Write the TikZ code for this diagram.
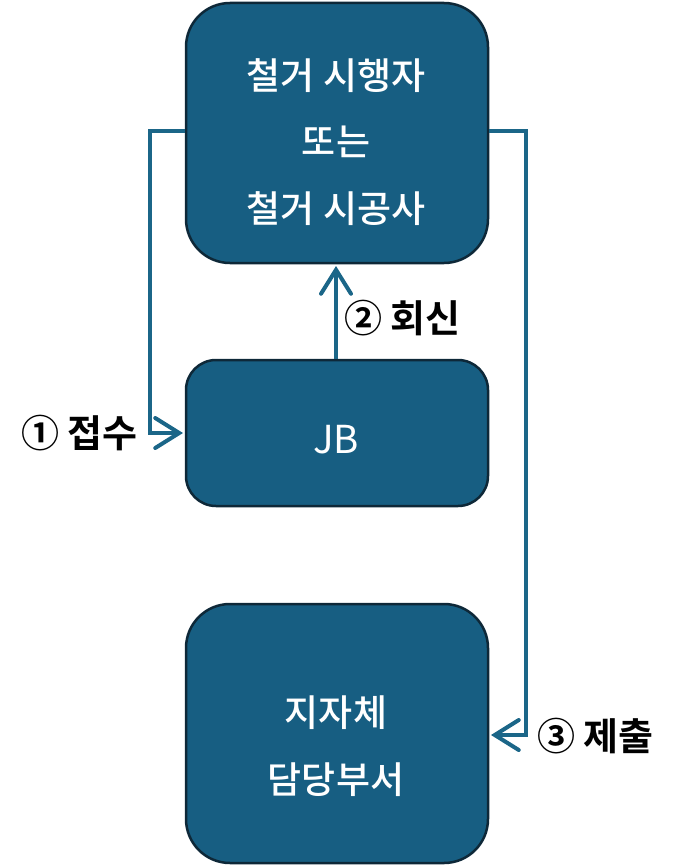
\documentclass[tikz,border=0pt]{standalone}
\usepackage{fontspec}
\setmainfont{Noto Sans CJK KR}[UprightFont=* Medium]
\newfontfamily\jbfont{Noto Sans CJK KR}
\newfontfamily\lblfont{Noto Sans CJK KR}[UprightFont=* Bold]
\usetikzlibrary{arrows.meta}
\definecolor{boxfill}{RGB}{23,94,130}
\definecolor{boxline}{RGB}{14,40,56}
\definecolor{conn}{RGB}{27,102,136}
\begin{document}
\begin{tikzpicture}[x=1pt,y=-1pt,
  box/.style={draw=boxline,line width=2.5pt,fill=boxfill,rounded corners=44pt},
  boxtext/.style={text=white,font=\fontsize{37}{66.5}\selectfont,align=center,inner sep=0pt},
  conline/.style={draw=conn,line width=4pt,-{Straight Barb[length=24pt,width=30pt,line width=4pt,line cap=round]}},
  lbl/.style={font=\lblfont\fontsize{38}{40}\selectfont,text=black,inner sep=0pt}]
\useasboundingbox (0,0) rectangle (676,867);
\path[box] (186,3) rectangle (488,263);
\node[boxtext] (top) at (336,142) {철거 시행자\\또는\\철거 시공사};
\path[box,rounded corners=30pt] (186,360) rectangle (488,506);
\node[boxtext,font=\jbfont\fontsize{38.5}{40}\selectfont] (jb) at (336,440) {JB};
\path[box] (186,604) rectangle (488,863);
\node[boxtext] (bot) at (336,746) {지자체\\담당부서};
\coordinate (tl) at (185,131);
\coordinate (tr) at (489,131);
\coordinate (jl) at (183,433);
\coordinate (bl) at (491,735);
\coordinate (jt) at (336,359);
\coordinate (tb) at (336,266);
\draw[conline] (tl) -- (150,131) -- (150,433) -- (jl);
\draw[conline] (tr) -- (526,131) -- (526,735) -- (bl);
\draw[conline] (jt) -- (tb);
\node[lbl,anchor=west] (l1) at (21,433) {① 접수};
\node[lbl,anchor=west] (l2) at (344,318) {② 회신};
\node[lbl,anchor=west] (l3) at (537,736) {③ 제출};
\end{tikzpicture}
\end{document}
